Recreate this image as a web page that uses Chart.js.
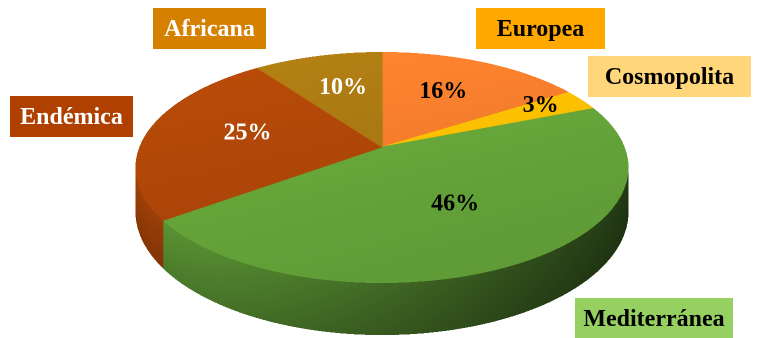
<!DOCTYPE html>
<html lang="es">
<head>
<meta charset="utf-8">
<script src="https://cdn.jsdelivr.net/npm/chart.js@4.4.1/dist/chart.umd.min.js"></script>
<style>
  html, body { margin: 0; padding: 0; background: #fff; }
  #graficoOrigen { display: block; width: 759px; height: 338px; }
</style>
</head>
<body>
<canvas id="graficoOrigen" width="759" height="338"></canvas>
<script>
// Datos del gráfico (sentido horario desde arriba)
const categorias = ['Europea', 'Cosmopolita', 'Mediterránea', 'Endémica', 'Africana'];
const porcentajes = [16, 3, 46, 25, 10];
const coloresSector = ['#F47D2C', '#FBC000', '#66A63A', '#AE4608', '#A87812'];
const coloresCaja = ['#FFA800', '#FFD67A', '#96D060', '#B04000', '#D68000'];
const coloresTexto = ['#000', '#000', '#000', '#fff', '#fff'];

// Cajas de las etiquetas de categoría (mismo orden que categorias)
const cajas = [
  { x: 476, y: 8, w: 129, h: 41 },
  { x: 588, y: 56, w: 163, h: 41 },
  { x: 575, y: 298, w: 158, h: 40 },
  { x: 10, y: 96, w: 123, h: 41 },
  { x: 153, y: 8, w: 113, h: 41 }
];

// Proyección en perspectiva del disco (centro, semiejes, inclinación, grosor)
const persp = { x0: 382, y0: 147, a: 242.6, b: 111.86, p: 0.1775, alto: 42.8 };

function proyecta(u, v) {
  const d = 1 - persp.p * v;
  return [persp.x0 + persp.a * u / d, persp.y0 + persp.b * v / d];
}

// Convierte el pastel plano que dibuja Chart.js en un pastel 3D
const pastel3D = {
  id: 'pastel3D',
  afterDraw(chart) {
    const meta = chart.getDatasetMeta(0);
    const arco0 = meta.data[0];
    const cx = arco0.x, cy = arco0.y, R = arco0.outerRadius;
    const ctx = chart.ctx;
    const W = chart.canvas.width, H = chart.canvas.height;
    const dpr = chart.currentDevicePixelRatio;
    const src = ctx.getImageData(0, 0, W, H);
    const out = ctx.createImageData(W, H);
    const s = src.data, o = out.data;
    const { x0, y0, a, b, p, alto } = persp;

    function muestra(u, v, res) {
      const fx = (cx + u * R) * dpr - 0.5;
      const fy = (cy + v * R) * dpr - 0.5;
      const ix = Math.floor(fx), iy = Math.floor(fy);
      const tx = fx - ix, ty = fy - iy;
      const i00 = (iy * W + ix) * 4, i10 = i00 + 4, i01 = i00 + W * 4, i11 = i01 + 4;
      for (let k = 0; k < 3; k++) {
        res[k] = (s[i00 + k] * (1 - tx) + s[i10 + k] * tx) * (1 - ty) +
                 (s[i01 + k] * (1 - tx) + s[i11 + k] * tx) * ty;
      }
    }

    // elipse del borde superior en pantalla
    const ex = a / Math.sqrt(1 - p * p);
    const ey = b / (1 - p * p);
    const yc = y0 + b * p / (1 - p * p);

    // datos por columna para la pared lateral
    const cols = [];
    for (let px = 0; px < W; px++) {
      const x = (px + 0.5) / dpr;
      const q = (x - x0) / ex;
      if (Math.abs(q) >= 1) { cols.push(null); continue; }
      const yb = yc + ey * Math.sqrt(1 - q * q);
      const Yn = (yb - y0) / b, Xn = (x - x0) / a;
      const d = 1 + p * Yn;
      let u = Xn / d, v = Yn / d;
      const n = Math.hypot(u, v);
      u /= n; v /= n;
      const c = [0, 0, 0];
      muestra(u * 0.97, v * 0.97, c);
      const t = (x - (x0 - ex)) / (2 * ex);
      cols.push({ yb, h: alto / (1 - p * v), c, f: 0.9 - 0.56 * t });
    }

    const c = [0, 0, 0];
    for (let py = 0; py < H; py++) {
      const y = (py + 0.5) / dpr;
      const Yn = (y - y0) / b;
      const d = 1 + p * Yn;
      for (let px = 0; px < W; px++) {
        const x = (px + 0.5) / dpr;
        const i = (py * W + px) * 4;
        let r = 255, g = 255, bl = 255;
        const u = (x - x0) / a / d, v = Yn / d;
        const rr = u * u + v * v;
        if (d > 0 && rr <= 1) {
          let su = u, sv = v;
          if (rr > 0.97) { const k = 0.985 / Math.sqrt(rr); su *= k; sv *= k; }
          muestra(su, sv, c);
          const luz = 1 - 0.06 * v - 0.03 * u;
          r = c[0] * luz; g = c[1] * luz; bl = c[2] * luz;
        } else {
          const cc = cols[px];
          if (cc && y > cc.yb && y <= cc.yb + cc.h) {
            const f = cc.f * (1.02 - 0.16 * (y - cc.yb) / cc.h);
            r = cc.c[0] * f; g = cc.c[1] * f; bl = cc.c[2] * f;
          }
        }
        o[i] = r; o[i + 1] = g; o[i + 2] = bl; o[i + 3] = 255;
      }
    }
    ctx.putImageData(out, 0, 0);

    // porcentajes sobre cada sector
    ctx.save();
    ctx.font = 'bold 24px "Liberation Serif", "Times New Roman", serif';
    ctx.textAlign = 'center';
    ctx.textBaseline = 'middle';
    meta.data.forEach((arco, i) => {
      const medio = (arco.startAngle + arco.endAngle) / 2;
      const rad = porcentajes[i] < 5 ? 0.78 : 0.57;
      const [lx, ly] = proyecta(rad * Math.cos(medio), rad * Math.sin(medio));
      ctx.fillStyle = coloresTexto[i];
      ctx.fillText(porcentajes[i] + '%', lx, ly - 4);
    });

    // etiquetas de categoría en cajas
    ctx.textBaseline = 'alphabetic';
    categorias.forEach((nombre, i) => {
      const k = cajas[i];
      ctx.fillStyle = coloresCaja[i];
      ctx.fillRect(k.x, k.y, k.w, k.h);
      ctx.fillStyle = coloresTexto[i];
      ctx.fillText(nombre, k.x + k.w / 2, k.y + 28);
    });
    ctx.restore();
  }
};

new Chart(document.getElementById('graficoOrigen'), {
  type: 'pie',
  data: {
    labels: categorias,
    datasets: [{
      data: porcentajes,
      backgroundColor: coloresSector,
      borderColor: coloresSector,
      borderWidth: 1
    }]
  },
  options: {
    responsive: false,
    devicePixelRatio: 2,
    animation: false,
    events: [],
    layout: { padding: 4 },
    plugins: {
      legend: { display: false },
      tooltip: { enabled: false }
    }
  },
  plugins: [pastel3D]
});
</script>
</body>
</html>
